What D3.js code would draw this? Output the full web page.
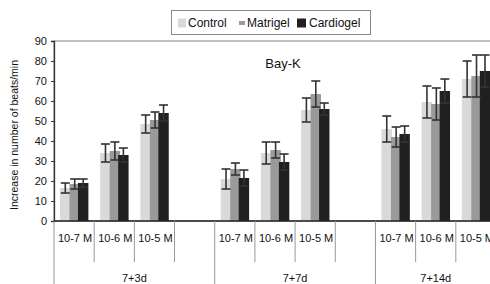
<!DOCTYPE html>
<html><head><meta charset="utf-8">
<script src="https://cdn.jsdelivr.net/npm/d3@7"></script>
<style>body{margin:0;background:#fff}svg{display:block}text{font-family:"Liberation Sans",Arial,sans-serif;fill:#111}</style>
</head><body><svg id="c" width="490" height="284"></svg>
<script>
const groups = ["7+3d", "7+7d", "7+14d"];
const doses = ["10-7 M", "10-6 M", "10-5 M"];
const seriesNames = ["Control", "Matrigel", "Cardiogel"];
const control = [16.5, 34, 48.5, 21, 34, 55.5, 46, 59.5, 71];
const controlErr = [2.5, 4.5, 4.5, 5, 5.5, 6, 6.5, 8, 9];
const matrigel = [18.5, 35, 50.5, 26, 35.5, 63.5, 42, 58.5, 72.5];
const matrigelErr = [2.5, 4.5, 4, 3, 4, 6.5, 5, 8, 10.5];
const cardiogel = [19, 33, 54, 21.5, 29.5, 56, 43.5, 65, 75];
const cardiogelErr = [2, 3.5, 4, 4, 4, 3, 4, 6, 8];
const yTicks = [0, 10, 20, 30, 40, 50, 60, 70, 80, 90];
const title = "Bay-K";
const yLabel = "Increase in number of beats/min";

const colors = ["#d9d9d9", "#9a9a9a", "#202020"];
const svg = d3.select("#c");
const L = 54, R = 496, T = 41, B = 221;

// slots: 3 doses + blank per group, last group without blank
const slots = [];
groups.forEach((g, gi) => {
  doses.forEach((d, di) => slots.push({id: g + "|" + d, group: g, dose: d, idx: gi * 3 + di}));
  if (gi < groups.length - 1) slots.push({id: g + "|blank", group: g, dose: null});
});
const x = d3.scaleBand().domain(slots.map(s => s.id)).range([L, R]).padding(0);
const y = d3.scaleLinear().domain([0, 90]).range([B, T]);
const bw = x.bandwidth();

// plot frame
svg.append("rect").attr("x", L).attr("y", T).attr("width", R - L).attr("height", B - T)
  .attr("fill", "none").attr("stroke", "#999").attr("stroke-width", 1.2);

// bars
const offsets = [-14.1, -4.6, 3.9];
const widths = [10.6, 10.4, 10.4];
const vals = [control, matrigel, cardiogel];
const errs = [controlErr, matrigelErr, cardiogelErr];
const dataSlots = slots.filter(s => s.dose);
seriesNames.forEach((name, si) => {
  const gS = svg.append("g");
  dataSlots.forEach(s => {
    const v = vals[si][s.idx];
    const cx = x(s.id) + bw / 2;
    gS.append("rect").attr("x", cx + offsets[si]).attr("y", y(v))
      .attr("width", widths[si]).attr("height", y(0) - y(v)).attr("fill", colors[si]);
  });
});
// error bars
seriesNames.forEach((name, si) => {
  dataSlots.forEach(s => {
    const v = vals[si][s.idx], e = errs[si][s.idx];
    const cx = x(s.id) + bw / 2 + offsets[si] + widths[si] / 2;
    const g = svg.append("g").attr("stroke", "#333").attr("stroke-width", 1.6);
    g.append("line").attr("x1", cx).attr("x2", cx).attr("y1", y(v - e)).attr("y2", y(v + e));
    g.append("line").attr("x1", cx - 4.5).attr("x2", cx + 4.5).attr("y1", y(v + e)).attr("y2", y(v + e));
    g.append("line").attr("x1", cx - 4.5).attr("x2", cx + 4.5).attr("y1", y(v - e)).attr("y2", y(v - e));
  });
});

// y axis
const yAxis = svg.append("g").attr("transform", `translate(${L},0)`)
  .call(d3.axisLeft(y).tickValues(yTicks).tickSize(3).tickPadding(4));
yAxis.select(".domain").attr("stroke", "#333").attr("stroke-width", 1.3);
yAxis.selectAll(".tick line").attr("stroke", "#333");
yAxis.selectAll("text").attr("font-size", 11).attr("fill", "#111")
  .attr("font-family", '"Liberation Sans",Arial,sans-serif');

// x baseline
svg.append("line").attr("x1", L).attr("x2", R).attr("y1", B).attr("y2", B)
  .attr("stroke", "#222").attr("stroke-width", 1.5);

// separators
const sepG = svg.append("g").attr("stroke", "#999").attr("stroke-width", 1);
slots.forEach((s, i) => {
  const xb = x(s.id);
  const groupStart = i === 0 || slots[i - 1].group !== s.group;
  sepG.append("line").attr("x1", xb).attr("x2", xb).attr("y1", B).attr("y2", groupStart ? 284 : 262);
});
sepG.append("line").attr("x1", R).attr("x2", R).attr("y1", B).attr("y2", 284);

// dose labels
dataSlots.forEach(s => {
  svg.append("text").attr("x", x(s.id) + bw / 2 + 1).attr("y", 242)
    .attr("text-anchor", "middle").attr("font-size", 11).text(s.dose);
});
// group labels
groups.forEach(g => {
  const gs = slots.filter(s => s.group === g);
  const x0 = x(gs[0].id), x1 = x(gs[gs.length - 1].id) + bw;
  svg.append("text").attr("x", (x0 + x1) / 2).attr("y", 282)
    .attr("text-anchor", "middle").attr("font-size", 11).text(g);
});

// title
svg.append("text").attr("x", 283).attr("y", 68).attr("text-anchor", "middle")
  .attr("font-size", 13).text(title);

// y label
svg.append("text").attr("transform", `translate(18,${(T + B) / 2 + 4}) rotate(-90)`)
  .attr("text-anchor", "middle").attr("font-size", 10.5).text(yLabel);

// legend
const lg = svg.append("g");
lg.append("rect").attr("x", 171.5).attr("y", 10.5).attr("width", 199).attr("height", 24)
  .attr("fill", "#fff").attr("stroke", "#888");
const legItems = [
  {sx: 178, sw: 8, sh: 9, tx: 188},
  {sx: 239, sw: 6, sh: 4, tx: 247},
  {sx: 297, sw: 9, sh: 9, tx: 309}
];
seriesNames.forEach((n, i) => {
  const it = legItems[i];
  lg.append("rect").attr("x", it.sx).attr("y", 23 - it.sh / 2).attr("width", it.sw).attr("height", it.sh)
    .attr("fill", colors[i]);
  lg.append("text").attr("x", it.tx).attr("y", 27).attr("font-size", 12).text(n);
});
</script></body></html>
